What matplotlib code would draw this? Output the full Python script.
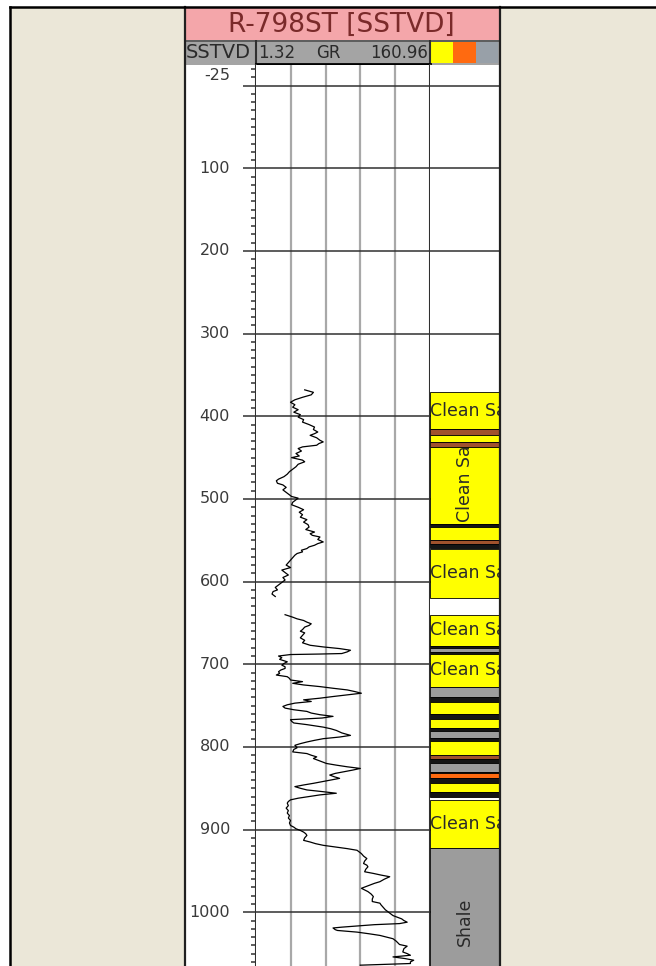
import numpy as np
import matplotlib
matplotlib.use('Agg')
import matplotlib.pyplot as plt
from matplotlib.patches import Rectangle
from matplotlib.lines import Line2D
from matplotlib.ticker import MultipleLocator
from matplotlib.transforms import Bbox, TransformedBbox

W, H = 656, 966

well_name = 'R-798ST [SSTVD]'
depth_ref = 'SSTVD'
curve_name = 'GR'
gr_min, gr_max = 1.32, 160.96
depth_top, depth_bottom = -25, 1065

depth_labels = [-25, 100, 200, 300, 400, 500, 600, 700, 800, 900, 1000]
depth_grid = [0, 100, 200, 300, 400, 500, 600, 700, 800, 900, 1000]

# GR log, upper run
gr_depth_1 = [368, 371, 374, 377, 380, 383, 386, 389, 392, 395, 398, 401, 404, 407, 410,
              413, 416, 419, 421, 423, 426, 429, 431, 433, 435, 437, 439, 442, 445, 448,
              450, 453, 455, 458, 461, 464, 467, 470, 473, 476, 478, 481, 483, 486, 489,
              491, 494, 497, 499, 501, 504, 507, 510, 513, 516, 519, 522, 525, 528, 531,
              534, 537, 540, 542, 544, 546, 549, 552, 554, 556, 558, 560, 562, 564, 566,
              568, 571, 574, 577, 580, 583, 586, 589, 592, 595, 598, 601, 604, 607, 610,
              612, 615, 618]
gr_value_1 = [46, 54, 52, 44, 37, 33, 37, 35, 40, 36, 42, 40, 45, 44, 50,
              55, 54, 58, 55, 51, 57, 60, 63, 59, 57, 44, 40, 43, 38, 41,
              34, 44, 46, 40, 38, 35, 32, 30, 27, 22, 20, 21, 26, 29, 26,
              28, 31, 34, 40, 38, 35, 34, 40, 45, 41, 44, 42, 48, 45, 49,
              50, 47, 55, 51, 53, 60, 58, 63, 58, 55, 50, 48, 43, 44, 39,
              37, 35, 33, 31, 29, 33, 25, 28, 31, 26, 28, 25, 22, 19, 21,
              17, 16, 19]

# GR log, lower run
gr_depth_2 = [640, 643, 645, 647, 649, 651, 653, 655, 658, 660, 662, 665, 668, 671, 674,
              677, 679, 681, 683, 685, 687, 687.6, 688.2, 690, 692, 694, 697, 699, 701, 703,
              705, 707, 709, 711, 713, 715, 717, 719, 721, 723, 725, 727, 729, 731, 733,
              735, 737, 739, 741, 743, 745, 747, 749, 751, 753, 755, 757, 759, 761, 763,
              765, 767, 769, 771, 773, 776, 778, 780, 783, 786, 788, 790, 792, 794, 796,
              798, 801, 803, 806, 808, 810, 812, 814, 816, 818, 820, 822, 824, 826, 828,
              830, 832, 834, 836, 838, 840, 842, 844, 846, 848, 850, 852, 854, 856, 858,
              860, 862, 864, 866, 868, 871, 874, 877, 880, 883, 886, 889, 892, 895, 897,
              899, 901, 903, 905, 907, 910, 913, 915, 917, 919, 921, 923, 925, 927, 929,
              932, 935, 938, 941, 943, 945, 948, 951, 953, 955, 957, 960, 963, 965, 967,
              969, 971, 973, 975, 978, 981, 984, 987, 989, 991, 994, 997, 1000, 1002, 1004,
              1006, 1008, 1010, 1012, 1013.7, 1015, 1016.5, 1018, 1019, 1021, 1022, 1024, 1026, 1028, 1030,
              1032, 1035, 1039, 1041, 1044, 1048, 1050, 1052, 1054, 1056, 1058, 1060, 1062, 1064]
gr_value_2 = [28, 35, 39, 45, 48, 52, 50, 46, 44, 42, 46, 44, 42, 46, 44,
              51, 63, 78, 88, 85, 80, 60, 33, 22, 25, 23, 30, 27, 25, 28,
              28, 24, 22, 23, 20, 30, 32, 33, 44, 35, 45, 60, 72, 85, 92,
              98, 85, 72, 60, 45, 52, 37, 30, 26, 28, 36, 48, 52, 60, 72,
              62, 33, 34, 36, 48, 63, 70, 75, 80, 88, 78, 63, 55, 48, 42,
              37, 39, 36, 35, 48, 52, 57, 54, 58, 62, 66, 75, 85, 97, 90,
              82, 74, 69, 73, 78, 70, 62, 54, 45, 37, 42, 48, 62, 75, 60,
              50, 40, 33, 31, 30, 31, 29, 31, 30, 32, 31, 33, 32, 33, 36,
              38, 42, 45, 47, 48, 46, 45, 51, 56, 63, 74, 85, 94, 96, 98,
              100, 103, 101, 100, 103, 104, 102, 101, 109, 116, 124, 119, 115, 110, 106,
              102, 98, 101, 104, 107, 109, 108, 108, 115, 116, 118, 120, 123, 125, 127,
              131, 135, 137, 140, 133, 110, 95, 80, 72, 74, 76, 94, 105, 115, 121,
              127, 130, 133, 140, 137, 136, 140, 143, 127, 138, 146, 143, 143, 97]

# lithology column: top, base, code
lith_top = [371, 415, 423, 431, 437, 530, 534, 550, 554, 560, 640, 678, 680, 685, 687,
            728, 740, 746, 760, 766, 777, 781, 789, 793, 810, 814, 820, 830, 832, 838,
            844, 855, 864, 922]
lith_base = [415, 423, 431, 437, 530, 534, 550, 554, 559, 620, 678, 680, 685, 687, 728,
             740, 746, 760, 766, 777, 781, 789, 793, 810, 814, 820, 830, 832, 838, 844,
             855, 861, 922, 1100]
lith_code = ['sand', 'silt', 'sand', 'silt', 'sand', 'coal', 'sand', 'silt', 'coal', 'sand',
             'sand', 'coal', 'shale', 'coal', 'sand', 'shale', 'coal', 'sand', 'coal', 'sand',
             'coal', 'shale', 'coal', 'sand', 'silt', 'coal', 'shale', 'coal', 'lime', 'coal',
             'sand', 'coal', 'sand', 'shale']
lith_names = {'sand': 'Clean Sand', 'shale': 'Shale', 'silt': 'Silty Sand',
              'coal': 'Coal', 'lime': 'Limestone'}
lith_colors = {'sand': '#FFFF00', 'shale': '#9C9C9C', 'silt': '#A0522D',
               'coal': '#151515', 'lime': '#FF6A10'}
header_swatches = ['#FFFF00', '#FF6A10', '#98A0A8']

beige = '#EBE7D8'
dark = '#303030'

fig = plt.figure(figsize=(W / 100, H / 100), dpi=100, facecolor='white')
fig.patches.append(Rectangle((10 / W, 0), 1, 1 - 6.5 / H, transform=fig.transFigure,
                             facecolor=beige, edgecolor='none', zorder=-10))


def px_axes(x0, y0, x1, y1):
    return fig.add_axes([x0 / W, 1 - y1 / H, (x1 - x0) / W, (y1 - y0) / H])


def bare(ax):
    ax.set_xticks([])
    ax.set_yticks([])
    for s in ax.spines.values():
        s.set_visible(False)


# title bar
ax_t = px_axes(185, 7, 500, 40)
bare(ax_t)
ax_t.set_facecolor('#F4A6AA')
ax_t.text(0.495, 0.47, well_name, ha='center', va='center', fontsize=19,
          color='#7A2A2A', transform=ax_t.transAxes)

# header row
ax_h = px_axes(185, 40, 500, 65)
bare(ax_h)
ax_h.set_facecolor('#A4A4A4')
ax_h.set_xlim(185, 500)
ax_h.set_ylim(65, 40)
ax_h.axhline(40.5, color='#505050', lw=1.2)
ax_h.axvline(256, color=dark, lw=1.5)
ax_h.axvline(430, color=dark, lw=1.5)
ax_h.plot([256, 430], [63.5, 63.5], color='black', lw=2)
ax_h.text(186, 53, depth_ref, ha='left', va='center', fontsize=14, color='#2a2a2a')
ax_h.text(258, 53, f'{gr_min:.2f}', ha='left', va='center', fontsize=12, color='#2a2a2a')
ax_h.text(328, 53, curve_name, ha='center', va='center', fontsize=12, color='#2a2a2a')
ax_h.text(428, 53, f'{gr_max:.2f}', ha='right', va='center', fontsize=12, color='#2a2a2a')
sw_edges = np.linspace(431, 498, len(header_swatches) + 1)
for i, c in enumerate(header_swatches):
    ax_h.add_patch(Rectangle((sw_edges[i], 42), sw_edges[i + 1] - sw_edges[i], 21,
                             facecolor=c, edgecolor='none'))

# depth track
ax_d = px_axes(186, 65, 256, 966)
ax_d.set_xlim(0, 1)
ax_d.set_ylim(depth_bottom, depth_top)
for s in ['left', 'top', 'bottom']:
    ax_d.spines[s].set_visible(False)
ax_d.spines['right'].set_color(dark)
ax_d.spines['right'].set_linewidth(1.5)
ax_d.set_xticks([])
ax_d.yaxis.set_ticks_position('right')
ax_d.set_yticks(depth_grid)
ax_d.yaxis.set_minor_locator(MultipleLocator(10))
ax_d.tick_params(axis='y', which='major', direction='in', length=9.5, width=1.1,
                 color=dark, labelright=False, labelleft=False)
ax_d.tick_params(axis='y', which='minor', direction='in', length=3.5, width=1.3, color='#505050')
for d in depth_labels:
    ax_d.text(0.63, d + (4 if d == depth_top else 0), str(d), ha='right',
              va='top' if d == depth_top else 'center',
              fontsize=11.5, color='#3a3a3a',
              transform=ax_d.get_yaxis_transform())

# GR track
ax_g = px_axes(256, 65, 430, 966)
ax_g.set_xlim(gr_min, gr_max)
ax_g.set_ylim(depth_bottom, depth_top)
ax_g.set_xticks(np.linspace(gr_min, gr_max, 6)[1:-1])
ax_g.set_yticks(depth_grid)
ax_g.tick_params(length=0, labelbottom=False, labelleft=False)
ax_g.grid(axis='x', color='#A8A8A8', lw=1.6)
ax_g.grid(axis='y', color=dark, lw=1.1)
ax_g.set_axisbelow(True)
for s in ['top', 'bottom', 'left']:
    ax_g.spines[s].set_visible(False)
ax_g.spines['right'].set_color(dark)
ax_g.spines['right'].set_linewidth(1.5)
gr_depth = np.concatenate([gr_depth_1, [np.nan], gr_depth_2])
gr_value = np.concatenate([gr_value_1, [np.nan], gr_value_2])
ax_g.plot(gr_value, gr_depth, color='black', lw=0.9)

# lithology track
ax_l = px_axes(430, 65, 499, 966)
ax_l.set_xlim(0, 1)
ax_l.set_ylim(depth_bottom, depth_top)
ax_l.set_xticks([])
ax_l.set_yticks(depth_grid)
ax_l.tick_params(length=0, labelleft=False)
ax_l.grid(axis='y', color=dark, lw=1.1)
ax_l.set_axisbelow(True)
for s in ax_l.spines.values():
    s.set_visible(False)
lfs = 12.5
for top, base, code in zip(lith_top, lith_base, lith_code):
    ax_l.axhspan(top, base, facecolor=lith_colors[code], edgecolor='black',
                 lw=0.6, zorder=2)
    if base - top < 30:
        continue
    name = lith_names[code]
    if base - top < 80:
        t = ax_l.text(0.0, (top + base) / 2, name, ha='left', va='center',
                      fontsize=lfs, color='#2a2a2a', zorder=3)
    elif code == 'shale':
        t = ax_l.text(0.5, (top + base) / 2, name, ha='center', va='center',
                      rotation=90, fontsize=lfs, color='#2a2a2a', zorder=3)
    else:
        t = ax_l.text(0.5, base - 2, name, ha='left', va='center', rotation=90,
                      rotation_mode='anchor', fontsize=lfs, color='#2a2a2a', zorder=3)
    t.set_clip_box(TransformedBbox(Bbox([[0, top], [1, base]]), ax_l.get_yaxis_transform()))
    t.set_clip_on(True)

# frames
for x in [185, 500]:
    fig.add_artist(Line2D([x / W, x / W], [0, 1 - 7 / H], color='#202020', lw=1.6))
fig.add_artist(Line2D([10 / W, 1], [1 - 6.5 / H, 1 - 6.5 / H], color='black', lw=1.8))
fig.add_artist(Line2D([10 / W, 10 / W], [0, 1 - 6.5 / H], color='black', lw=1.8))

fig.savefig('out.png', dpi=100, facecolor=fig.get_facecolor())
